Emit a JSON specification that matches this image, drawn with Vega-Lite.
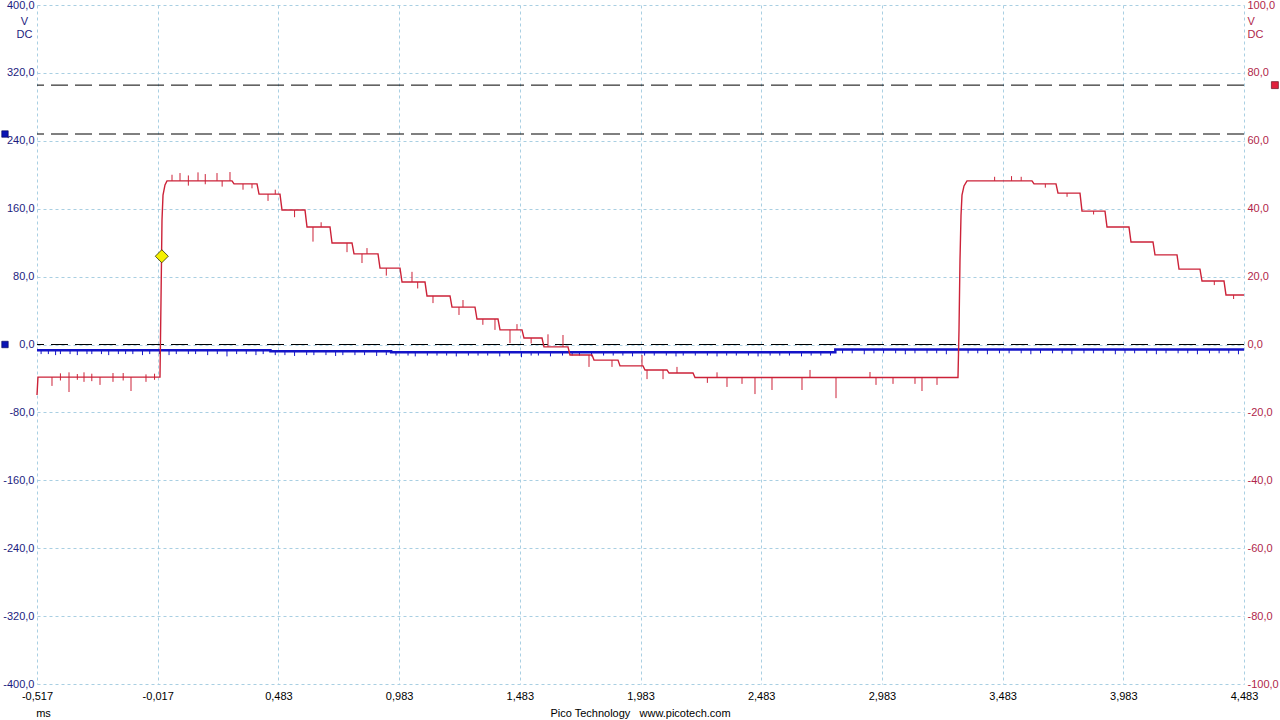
{
  "$schema": "https://vega.github.io/schema/vega-lite/v6.json",
  "autosize": "none",
  "width": 1207,
  "height": 679,
  "padding": {"left": 37, "top": 5, "right": 36, "bottom": 36},
  "background": "white",
  "config": {
    "view": {"stroke": null},
    "axis": {
      "labelFont": "Liberation Sans", "labelFontSize": 11,
      "titleFont": "Liberation Sans", "titleFontSize": 11, "titleFontWeight": "normal",
      "domain": false, "ticks": false,
      "gridDash": [3, 3], "gridColor": "#a9cfe2", "gridOpacity": 1, "gridWidth": 1,
      "labelFlush": false, "labelOverlap": false
    }
  },
  "title": {
    "text": "Pico Technology \u00a0 www.picotech.com",
    "orient": "bottom", "anchor": "middle", "frame": "group",
    "font": "Liberation Sans", "fontSize": 11, "fontWeight": "normal", "color": "#000000",
    "offset": -10
  },
  "datasets": {
    "blueLine": [
      {"t": -0.517, "v": -6.8},
      {"t": 0.45, "v": -8.0},
      {"t": 0.95, "v": -9.2},
      {"t": 2.79, "v": -5.9},
      {"t": 4.483, "v": -5.9}
    ],
    "blueSpikes": [
      {"t": -0.50, "v": -6.8, "v2": -11.3}, {"t": -0.47, "v": -6.8, "v2": -11.3}, {"t": -0.44, "v": -6.8, "v2": -12.5},
      {"t": -0.42, "v": -6.8, "v2": -11.3}, {"t": -0.38, "v": -6.8, "v2": -11.3}, {"t": -0.35, "v": -6.8, "v2": -12.5},
      {"t": -0.31, "v": -6.8, "v2": -11.3}, {"t": -0.29, "v": -6.8, "v2": -11.3}, {"t": -0.25, "v": -6.8, "v2": -11.3},
      {"t": -0.22, "v": -6.8, "v2": -12.5}, {"t": -0.18, "v": -6.8, "v2": -11.3}, {"t": -0.15, "v": -6.8, "v2": -11.3},
      {"t": -0.12, "v": -6.8, "v2": -11.3}, {"t": -0.08, "v": -6.8, "v2": -12.5}, {"t": -0.05, "v": -6.8, "v2": -11.3},
      {"t": -0.01, "v": -6.8, "v2": -11.3}, {"t": 0.03, "v": -6.8, "v2": -12.5}, {"t": 0.06, "v": -6.8, "v2": -11.3},
      {"t": 0.11, "v": -6.8, "v2": -11.3}, {"t": 0.14, "v": -6.8, "v2": -11.3}, {"t": 0.19, "v": -6.8, "v2": -12.5},
      {"t": 0.23, "v": -6.8, "v2": -11.3}, {"t": 0.27, "v": -6.8, "v2": -14.0}, {"t": 0.31, "v": -6.8, "v2": -11.3},
      {"t": 0.35, "v": -6.8, "v2": -11.3}, {"t": 0.39, "v": -6.8, "v2": -12.5}, {"t": 0.42, "v": -6.8, "v2": -11.3},
      {"t": 0.47, "v": -8.0, "v2": -12.5}, {"t": 0.51, "v": -8.0, "v2": -12.5}, {"t": 0.55, "v": -8.0, "v2": -13.5},
      {"t": 0.60, "v": -8.0, "v2": -12.5}, {"t": 0.63, "v": -8.0, "v2": -12.5}, {"t": 0.68, "v": -8.0, "v2": -12.5},
      {"t": 0.72, "v": -8.0, "v2": -13.5}, {"t": 0.75, "v": -8.0, "v2": -12.5}, {"t": 0.80, "v": -8.0, "v2": -12.5},
      {"t": 0.84, "v": -8.0, "v2": -12.5}, {"t": 0.89, "v": -8.0, "v2": -13.5}, {"t": 0.93, "v": -8.0, "v2": -12.5},
      {"t": 0.97, "v": -9.2, "v2": -13.0}, {"t": 1.02, "v": -9.2, "v2": -13.0}, {"t": 1.05, "v": -9.2, "v2": -14.0},
      {"t": 1.10, "v": -9.2, "v2": -13.0}, {"t": 1.14, "v": -9.2, "v2": -13.0}, {"t": 1.18, "v": -9.2, "v2": -13.0},
      {"t": 1.22, "v": -9.2, "v2": -14.0}, {"t": 1.27, "v": -9.2, "v2": -13.0}, {"t": 1.31, "v": -9.2, "v2": -13.0},
      {"t": 1.35, "v": -9.2, "v2": -13.0}, {"t": 1.40, "v": -9.2, "v2": -14.0}, {"t": 1.44, "v": -9.2, "v2": -13.0},
      {"t": 1.49, "v": -9.2, "v2": -15.0}, {"t": 1.53, "v": -9.2, "v2": -13.0}, {"t": 1.56, "v": -9.2, "v2": -13.0},
      {"t": 1.61, "v": -9.2, "v2": -14.0}, {"t": 1.66, "v": -9.2, "v2": -13.0}, {"t": 1.70, "v": -9.2, "v2": -13.0},
      {"t": 1.73, "v": -9.2, "v2": -13.0}, {"t": 1.78, "v": -9.2, "v2": -14.0}, {"t": 1.83, "v": -9.2, "v2": -13.0},
      {"t": 1.87, "v": -9.2, "v2": -13.0}, {"t": 1.91, "v": -9.2, "v2": -13.0}, {"t": 1.95, "v": -9.2, "v2": -14.0},
      {"t": 2.00, "v": -9.2, "v2": -13.0}, {"t": 2.04, "v": -9.2, "v2": -13.0}, {"t": 2.09, "v": -9.2, "v2": -13.0},
      {"t": 2.13, "v": -9.2, "v2": -14.0}, {"t": 2.16, "v": -9.2, "v2": -13.0}, {"t": 2.21, "v": -9.2, "v2": -13.0},
      {"t": 2.26, "v": -9.2, "v2": -13.0}, {"t": 2.30, "v": -9.2, "v2": -14.0}, {"t": 2.34, "v": -9.2, "v2": -13.0},
      {"t": 2.38, "v": -9.2, "v2": -13.0}, {"t": 2.43, "v": -9.2, "v2": -13.0}, {"t": 2.47, "v": -9.2, "v2": -14.0},
      {"t": 2.52, "v": -9.2, "v2": -13.0}, {"t": 2.56, "v": -9.2, "v2": -13.0}, {"t": 2.60, "v": -9.2, "v2": -13.0},
      {"t": 2.65, "v": -9.2, "v2": -14.0}, {"t": 2.69, "v": -9.2, "v2": -13.0}, {"t": 2.73, "v": -9.2, "v2": -13.0},
      {"t": 2.77, "v": -9.2, "v2": -13.0},
      {"t": 2.82, "v": -5.9, "v2": -10.4}, {"t": 2.86, "v": -5.9, "v2": -10.4}, {"t": 2.91, "v": -5.9, "v2": -11.5},
      {"t": 2.95, "v": -5.9, "v2": -10.4}, {"t": 2.99, "v": -5.9, "v2": -10.4}, {"t": 3.04, "v": -5.9, "v2": -10.4},
      {"t": 3.08, "v": -5.9, "v2": -11.5}, {"t": 3.12, "v": -5.9, "v2": -10.4}, {"t": 3.17, "v": -5.9, "v2": -10.4},
      {"t": 3.21, "v": -5.9, "v2": -10.4}, {"t": 3.25, "v": -5.9, "v2": -11.5}, {"t": 3.30, "v": -5.9, "v2": -10.4},
      {"t": 3.34, "v": -5.9, "v2": -10.4}, {"t": 3.38, "v": -5.9, "v2": -10.4}, {"t": 3.42, "v": -5.9, "v2": -11.5},
      {"t": 3.47, "v": -5.9, "v2": -10.4}, {"t": 3.51, "v": -5.9, "v2": -10.4}, {"t": 3.56, "v": -5.9, "v2": -10.4},
      {"t": 3.60, "v": -5.9, "v2": -11.5}, {"t": 3.64, "v": -5.9, "v2": -10.4}, {"t": 3.69, "v": -5.9, "v2": -10.4},
      {"t": 3.73, "v": -5.9, "v2": -10.4}, {"t": 3.77, "v": -5.9, "v2": -11.5}, {"t": 3.82, "v": -5.9, "v2": -10.4},
      {"t": 3.86, "v": -5.9, "v2": -10.4}, {"t": 3.90, "v": -5.9, "v2": -10.4}, {"t": 3.95, "v": -5.9, "v2": -11.5},
      {"t": 3.99, "v": -5.9, "v2": -10.4}, {"t": 4.03, "v": -5.9, "v2": -10.4}, {"t": 4.08, "v": -5.9, "v2": -10.4},
      {"t": 4.12, "v": -5.9, "v2": -11.5}, {"t": 4.16, "v": -5.9, "v2": -10.4}, {"t": 4.21, "v": -5.9, "v2": -10.4},
      {"t": 4.25, "v": -5.9, "v2": -10.4}, {"t": 4.29, "v": -5.9, "v2": -11.5}, {"t": 4.34, "v": -5.9, "v2": -10.4},
      {"t": 4.38, "v": -5.9, "v2": -10.4}, {"t": 4.42, "v": -5.9, "v2": -10.4}, {"t": 4.46, "v": -5.9, "v2": -11.5}
    ],
    "blueRefs": [{"v": 248}, {"v": 0}],
    "blueMarkers": [{"t": -0.6496, "v": 248}, {"t": -0.6496, "v": 0}],
    "redLine": [
      {"t": -0.517, "v": -14.9}, {"t": -0.513, "v": -9.6}, {"t": -0.0116, "v": -9.6}, {"t": -0.0075, "v": -9.6},
      {"t": -0.0033, "v": 13.1}, {"t": 0.0008, "v": 36.7}, {"t": 0.005, "v": 44.0}, {"t": 0.0132, "v": 47.0},
      {"t": 0.0215, "v": 48.2}, {"t": 0.2908, "v": 48.2}, {"t": 0.2991, "v": 47.3}, {"t": 0.3944, "v": 47.3},
      {"t": 0.4027, "v": 44.3}, {"t": 0.4896, "v": 44.3}, {"t": 0.4979, "v": 39.6}, {"t": 0.5932, "v": 39.6},
      {"t": 0.6015, "v": 34.6}, {"t": 0.6968, "v": 34.6}, {"t": 0.7051, "v": 29.9}, {"t": 0.7879, "v": 29.9},
      {"t": 0.7962, "v": 26.7}, {"t": 0.8956, "v": 26.7}, {"t": 0.9039, "v": 22.5}, {"t": 0.9868, "v": 22.5},
      {"t": 0.9951, "v": 18.4}, {"t": 1.0903, "v": 18.4}, {"t": 1.0986, "v": 14.3}, {"t": 1.1939, "v": 14.3},
      {"t": 1.2021, "v": 11.0}, {"t": 1.2974, "v": 11.0}, {"t": 1.3056, "v": 7.5}, {"t": 1.3927, "v": 7.5},
      {"t": 1.401, "v": 4.3}, {"t": 1.4921, "v": 4.3}, {"t": 1.5004, "v": 1.9}, {"t": 1.575, "v": 1.9},
      {"t": 1.5832, "v": -0.7}, {"t": 1.6826, "v": -0.7}, {"t": 1.6909, "v": -3.1}, {"t": 1.7821, "v": -3.1},
      {"t": 1.7904, "v": -4.6}, {"t": 1.8898, "v": -4.6}, {"t": 1.8981, "v": -6.3}, {"t": 1.9934, "v": -6.3},
      {"t": 2.0017, "v": -7.5}, {"t": 2.0928, "v": -7.5}, {"t": 2.1011, "v": -8.4}, {"t": 2.2005, "v": -8.4},
      {"t": 2.2088, "v": -9.7}, {"t": 3.2982, "v": -9.7}, {"t": 3.3024, "v": 4.3}, {"t": 3.3065, "v": 24.9},
      {"t": 3.3107, "v": 38.0}, {"t": 3.3148, "v": 44.0}, {"t": 3.3231, "v": 46.7}, {"t": 3.3355, "v": 48.2},
      {"t": 3.6048, "v": 48.2}, {"t": 3.6131, "v": 47.3}, {"t": 3.7042, "v": 47.3}, {"t": 3.7125, "v": 44.6},
      {"t": 3.8036, "v": 44.6}, {"t": 3.8119, "v": 39.3}, {"t": 3.9072, "v": 39.3}, {"t": 3.9155, "v": 34.6},
      {"t": 4.0066, "v": 34.6}, {"t": 4.0149, "v": 30.2}, {"t": 4.106, "v": 30.2}, {"t": 4.1143, "v": 26.4},
      {"t": 4.2055, "v": 26.4}, {"t": 4.2138, "v": 22.2}, {"t": 4.3007, "v": 22.2}, {"t": 4.309, "v": 18.7},
      {"t": 4.4001, "v": 18.7}, {"t": 4.4084, "v": 14.6}, {"t": 4.483, "v": 14.6}
    ],
    "redSpikes": [
      {"t": -0.4549, "v": -9.6, "v2": -12.2}, {"t": -0.42, "v": -8.5, "v2": -10.6}, {"t": -0.3844, "v": -8.2, "v2": -14.0},
      {"t": -0.35, "v": -8.7, "v2": -10.4}, {"t": -0.3223, "v": -8.2, "v2": -11.0}, {"t": -0.29, "v": -8.6, "v2": -10.8},
      {"t": -0.256, "v": -9.6, "v2": -11.9}, {"t": -0.2022, "v": -8.4, "v2": -11.0}, {"t": -0.16, "v": -8.4, "v2": -10.6},
      {"t": -0.1276, "v": -9.6, "v2": -13.7}, {"t": -0.0655, "v": -8.8, "v2": -11.0}, {"t": -0.03, "v": -8.6, "v2": -10.4},
      {"t": 0.0423, "v": 48.2, "v2": 50.0}, {"t": 0.0754, "v": 48.2, "v2": 50.5}, {"t": 0.11, "v": 46.8, "v2": 49.8},
      {"t": 0.15, "v": 48.2, "v2": 50.7}, {"t": 0.18, "v": 47.2, "v2": 50.2}, {"t": 0.2287, "v": 48.2, "v2": 50.5},
      {"t": 0.25, "v": 46.5, "v2": 48.2}, {"t": 0.2825, "v": 48.2, "v2": 50.8}, {"t": 0.3364, "v": 47.3, "v2": 45.6},
      {"t": 0.3736, "v": 47.3, "v2": 46.0}, {"t": 0.44, "v": 44.3, "v2": 42.3}, {"t": 0.47, "v": 44.3, "v2": 45.6},
      {"t": 0.55, "v": 39.6, "v2": 37.5}, {"t": 0.6263, "v": 34.6, "v2": 30.3}, {"t": 0.66, "v": 34.6, "v2": 36.0},
      {"t": 0.7672, "v": 29.9, "v2": 27.2}, {"t": 0.8293, "v": 26.7, "v2": 24.0}, {"t": 0.85, "v": 26.7, "v2": 28.4},
      {"t": 0.93, "v": 22.5, "v2": 20.3}, {"t": 1.0364, "v": 18.4, "v2": 21.4}, {"t": 1.06, "v": 18.4, "v2": 16.5},
      {"t": 1.1234, "v": 14.3, "v2": 12.2}, {"t": 1.2311, "v": 11.0, "v2": 8.7}, {"t": 1.2477, "v": 11.0, "v2": 13.1},
      {"t": 1.33, "v": 7.5, "v2": 5.8}, {"t": 1.3802, "v": 7.5, "v2": 4.3}, {"t": 1.4424, "v": 4.3, "v2": 0.4},
      {"t": 1.4714, "v": 4.3, "v2": 6.0}, {"t": 1.53, "v": 1.9, "v2": 0.3}, {"t": 1.5998, "v": -0.7, "v2": 3.0},
      {"t": 1.6619, "v": -0.7, "v2": 2.8}, {"t": 1.7697, "v": -3.1, "v2": -6.6}, {"t": 1.8649, "v": -4.6, "v2": -6.6},
      {"t": 1.9892, "v": -6.3, "v2": -3.1}, {"t": 2.01, "v": -7.5, "v2": -10.2}, {"t": 2.0763, "v": -7.5, "v2": -10.2},
      {"t": 2.1342, "v": -8.4, "v2": -6.6}, {"t": 2.26, "v": -9.7, "v2": -11.3}, {"t": 2.3, "v": -9.7, "v2": -8.2},
      {"t": 2.3413, "v": -9.7, "v2": -12.5}, {"t": 2.4035, "v": -9.7, "v2": -11.6}, {"t": 2.4573, "v": -9.7, "v2": -14.6},
      {"t": 2.5277, "v": -9.7, "v2": -13.4}, {"t": 2.652, "v": -9.7, "v2": -13.4}, {"t": 2.6852, "v": -9.7, "v2": -7.5},
      {"t": 2.7929, "v": -9.7, "v2": -15.8}, {"t": 2.9337, "v": -9.7, "v2": -8.1}, {"t": 2.9586, "v": -9.7, "v2": -11.9},
      {"t": 3.029, "v": -9.7, "v2": -11.6}, {"t": 3.1201, "v": -9.7, "v2": -11.6}, {"t": 3.1491, "v": -9.7, "v2": -13.7},
      {"t": 3.2113, "v": -9.7, "v2": -11.9}, {"t": 3.45, "v": 48.2, "v2": 49.4}, {"t": 3.52, "v": 48.2, "v2": 49.6},
      {"t": 3.56, "v": 48.2, "v2": 49.4}, {"t": 3.66, "v": 47.3, "v2": 46.2}, {"t": 3.75, "v": 44.6, "v2": 43.5},
      {"t": 3.86, "v": 39.3, "v2": 38.3}, {"t": 4.36, "v": 18.7, "v2": 17.5}, {"t": 4.44, "v": 14.6, "v2": 13.4}
    ],
    "redRefs": [{"v": 76.4}],
    "redMarkers": [{"t": 4.611, "v": 76.4}],
    "trigger": [{"t": 0.0, "v": 26.0}]
  },
  "layer": [
    {
      "data": {"name": "blueLine"},
      "mark": {"type": "line", "interpolate": "step-after", "color": "#1414c8", "strokeWidth": 2.5},
      "encoding": {
        "x": {"field": "t", "type": "quantitative", "scale": {"domain": [-0.517, 4.483], "nice": false, "zero": false},
          "axis": {"orient": "bottom", "values": [-0.517, -0.017, 0.483, 0.983, 1.483, 1.983, 2.483, 2.983, 3.483, 3.983, 4.483],
            "labelExpr": "replace(replace(format(datum.value, '.3f'), '.', ','), '\u2212', '-')",
            "grid": true, "labelColor": "#000000", "labelPadding": 6,
            "title": "ms", "titleColor": "#000000", "titleX": 6, "titleY": 29, "titleAlign": "center", "titleBaseline": "middle"}},
        "y": {"field": "v", "type": "quantitative", "scale": {"domain": [-400, 400], "nice": false, "zero": false},
          "axis": {"orient": "left", "values": [-400, -320, -240, -160, -80, 0, 80, 160, 240, 320, 400],
            "labelExpr": "replace(replace(format(datum.value, '.1f'), '.', ','), '\u2212', '-')",
            "grid": true, "labelColor": "#1c1c80", "labelPadding": 3,
            "title": ["V", "DC"], "titleColor": "#1c1c80", "titleAngle": 0, "titleAlign": "center", "titleBaseline": "top",
            "titleX": -13, "titleY": 10}}
      }
    },
    {
      "data": {"name": "blueSpikes"},
      "mark": {"type": "rule", "color": "#1414c8", "strokeWidth": 1},
      "encoding": {
        "x": {"field": "t", "type": "quantitative", "scale": {"domain": [-0.517, 4.483], "nice": false, "zero": false}},
        "y": {"field": "v", "type": "quantitative", "scale": {"domain": [-400, 400], "nice": false, "zero": false}, "axis": null},
        "y2": {"field": "v2"}
      }
    },
    {
      "data": {"name": "blueRefs"},
      "mark": {"type": "rule", "color": "#000000", "strokeWidth": 1, "strokeDash": [17, 7]},
      "encoding": {
        "y": {"field": "v", "type": "quantitative", "scale": {"domain": [-400, 400], "nice": false, "zero": false}, "axis": null}
      }
    },
    {
      "data": {"name": "blueMarkers"},
      "mark": {"type": "point", "shape": "square", "filled": true, "size": 42, "color": "#0a14b4", "stroke": "#000050", "strokeWidth": 0.6, "opacity": 1},
      "encoding": {
        "x": {"field": "t", "type": "quantitative", "scale": {"domain": [-0.517, 4.483], "nice": false, "zero": false}},
        "y": {"field": "v", "type": "quantitative", "scale": {"domain": [-400, 400], "nice": false, "zero": false}, "axis": null}
      }
    },
    {
      "data": {"name": "redLine"},
      "mark": {"type": "line", "color": "#cc2238", "strokeWidth": 1.4},
      "encoding": {
        "x": {"field": "t", "type": "quantitative", "scale": {"domain": [-0.517, 4.483], "nice": false, "zero": false}},
        "y": {"field": "v", "type": "quantitative", "scale": {"domain": [-100, 100], "nice": false, "zero": false},
          "axis": {"orient": "right", "values": [-100, -80, -60, -40, -20, 0, 20, 40, 60, 80, 100],
            "labelExpr": "replace(replace(format(datum.value, '.1f'), '.', ','), '\u2212', '-')",
            "grid": false, "labelColor": "#b0264a", "labelPadding": 3,
            "title": ["V", "DC"], "titleColor": "#b0264a", "titleAngle": 0, "titleAlign": "left", "titleBaseline": "top",
            "titleX": 3, "titleY": 10}}
      }
    },
    {
      "data": {"name": "redSpikes"},
      "mark": {"type": "rule", "color": "#cc2238", "strokeWidth": 1},
      "encoding": {
        "x": {"field": "t", "type": "quantitative", "scale": {"domain": [-0.517, 4.483], "nice": false, "zero": false}},
        "y": {"field": "v", "type": "quantitative", "scale": {"domain": [-100, 100], "nice": false, "zero": false}, "axis": null},
        "y2": {"field": "v2"}
      }
    },
    {
      "data": {"name": "redRefs"},
      "mark": {"type": "rule", "color": "#000000", "strokeWidth": 1, "strokeDash": [17, 7]},
      "encoding": {
        "y": {"field": "v", "type": "quantitative", "scale": {"domain": [-100, 100], "nice": false, "zero": false}, "axis": null}
      }
    },
    {
      "data": {"name": "redMarkers"},
      "mark": {"type": "point", "shape": "square", "filled": true, "size": 49, "color": "#e0203c", "stroke": "#500010", "strokeWidth": 0.6, "opacity": 1},
      "encoding": {
        "x": {"field": "t", "type": "quantitative", "scale": {"domain": [-0.517, 4.483], "nice": false, "zero": false}},
        "y": {"field": "v", "type": "quantitative", "scale": {"domain": [-100, 100], "nice": false, "zero": false}, "axis": null}
      }
    },
    {
      "data": {"name": "trigger"},
      "mark": {"type": "point", "shape": "diamond", "filled": true, "size": 170, "color": "#f5f000", "stroke": "#303000", "strokeWidth": 0.8, "opacity": 1},
      "encoding": {
        "x": {"field": "t", "type": "quantitative", "scale": {"domain": [-0.517, 4.483], "nice": false, "zero": false}},
        "y": {"field": "v", "type": "quantitative", "scale": {"domain": [-100, 100], "nice": false, "zero": false}, "axis": null}
      }
    }
  ],
  "resolve": {"scale": {"y": "independent"}, "axis": {"y": "independent"}}
}
